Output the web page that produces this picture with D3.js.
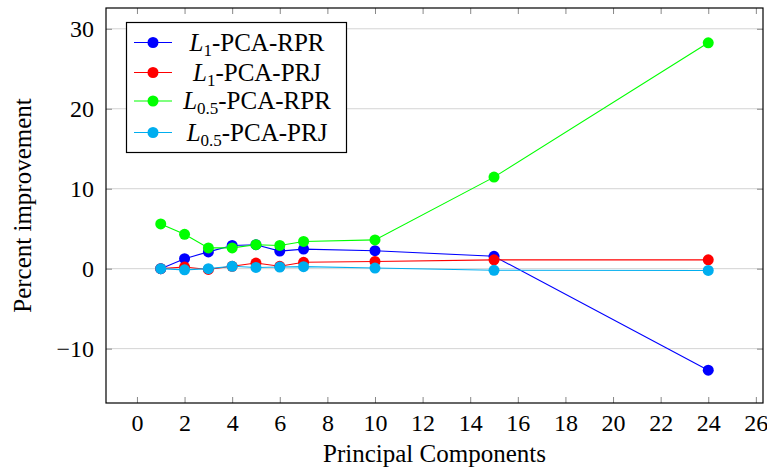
<!DOCTYPE html>
<html><head><meta charset="utf-8">
<script src="https://cdn.jsdelivr.net/npm/d3@7"></script>
<style>body{margin:0;background:#fff}svg{display:block}text{font-family:"Liberation Serif","Times New Roman",serif}</style>
</head><body>
<script>
const components = [1, 2, 3, 4, 5, 6, 7, 10, 15, 24];
const l1RPR  = [0, 1.25, 2.1, 2.9, 3.0, 2.2, 2.45, 2.25, 1.55, -12.7];
const l1PRJ  = [0, 0.2, -0.1, 0.3, 0.7, 0.3, 0.8, 0.9, 1.1, 1.1];
const l05RPR = [5.6, 4.3, 2.6, 2.6, 3.0, 2.9, 3.4, 3.6, 11.45, 28.25];
const l05PRJ = [0, -0.15, 0, 0.3, 0.15, 0.2, 0.25, 0.08, -0.2, -0.22];
const xTicks = [0,2,4,6,8,10,12,14,16,18,20,22,24,26];
const yTicks = [-10,0,10,20,30];
const seriesNames = [["L","1","-PCA-RPR"],["L","1","-PCA-PRJ"],["L","0.5","-PCA-RPR"],["L","0.5","-PCA-PRJ"]];
const seriesColors = ["#0000ff","#ff0000","#00ff00","#00aeef"];
const seriesData = [l1RPR, l1PRJ, l05RPR, l05PRJ];

const W = 767, H = 469;
const m = {left:106, right:4, top:8, bottom:66};
const svg = d3.select("body").append("svg").attr("width", W).attr("height", H);
const x = d3.scaleLinear().domain([-1.3, 26.3]).range([m.left, W - m.right]);
const y = d3.scaleLinear().domain([-16.8, 32.6]).range([H - m.bottom, m.top]);

// grid
svg.append("g").selectAll("line").data(yTicks).join("line")
  .attr("x1", m.left).attr("x2", W - m.right)
  .attr("y1", d => y(d)).attr("y2", d => y(d))
  .attr("stroke", "#d4d4d4").attr("stroke-width", 1);

// axes with inward ticks
const fs = 24;
const xb = svg.append("g").attr("transform", `translate(0,${H - m.bottom})`)
  .call(d3.axisBottom(x).tickValues(xTicks).tickSize(-6).tickPadding(11).tickFormat(d3.format("d")));
const xt = svg.append("g").attr("transform", `translate(0,${m.top})`)
  .call(d3.axisTop(x).tickValues(xTicks).tickSize(-6).tickFormat(""));
const yl = svg.append("g").attr("transform", `translate(${m.left},0)`)
  .call(d3.axisLeft(y).tickValues(yTicks).tickSize(-6).tickPadding(12).tickFormat(d => d < 0 ? "\u2212" + Math.abs(d) : d));
const yr = svg.append("g").attr("transform", `translate(${W - m.right},0)`)
  .call(d3.axisRight(y).tickValues(yTicks).tickSize(-6).tickFormat(""));
[xb, xt, yl, yr].forEach(g => {
  g.select(".domain").remove();
  g.selectAll(".tick line").attr("stroke", "#888").attr("stroke-width", 1);
  g.selectAll("text").attr("font-size", fs).attr("fill", "#000")
    .style("font-family", '"Liberation Serif",serif');
});
svg.append("rect").attr("x", m.left).attr("y", m.top)
  .attr("width", W - m.right - m.left).attr("height", H - m.bottom - m.top)
  .attr("fill", "none").attr("stroke", "#000").attr("stroke-width", 1.2);

// series
const line = d3.line().x((d, i) => x(components[i])).y(d => y(d));
seriesData.forEach((vals, k) => {
  const g = svg.append("g");
  g.append("path").datum(vals).attr("d", line).attr("fill", "none")
    .attr("stroke", seriesColors[k]).attr("stroke-width", 1.1);
  g.selectAll("circle").data(vals).join("circle")
    .attr("cx", (d, i) => x(components[i])).attr("cy", d => y(d)).attr("r", 5.5)
    .attr("fill", seriesColors[k]);
});

// axis labels
svg.append("text").attr("x", (m.left + W - m.right) / 2).attr("y", 462)
  .attr("text-anchor", "middle").attr("font-size", 25).text("Principal Components");
svg.append("text").attr("transform", `translate(31,${(m.top + H - m.bottom) / 2}) rotate(-90)`)
  .attr("text-anchor", "middle").attr("font-size", 25).text("Percent improvement");

// legend
const lg = svg.append("g");
lg.append("rect").attr("x", 126.5).attr("y", 22.5).attr("width", 220).attr("height", 130)
  .attr("fill", "#fff").attr("stroke", "#000").attr("stroke-width", 1.2);
const rowsY = [42.5, 72.5, 101, 132.5];
seriesNames.forEach((nm, k) => {
  const yy = rowsY[k];
  lg.append("line").attr("x1", 134).attr("x2", 172).attr("y1", yy).attr("y2", yy)
    .attr("stroke", seriesColors[k]).attr("stroke-width", 1.1);
  lg.append("circle").attr("cx", 153).attr("cy", yy).attr("r", 5.5).attr("fill", seriesColors[k]);
  const t = lg.append("text").attr("x", 257).attr("y", yy + 8).attr("text-anchor", "middle").attr("font-size", 25);
  t.append("tspan").attr("font-style", "italic").text(nm[0]);
  t.append("tspan").attr("font-size", 17).attr("dy", 5).text(nm[1]);
  t.append("tspan").attr("dy", -5).text(nm[2]);
});
</script>
</body></html>
